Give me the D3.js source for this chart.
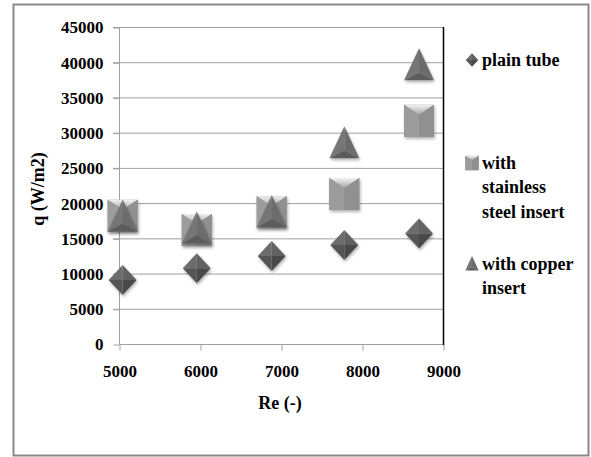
<!DOCTYPE html>
<html><head><meta charset="utf-8">
<script src="https://cdn.jsdelivr.net/npm/d3@7"></script>
<style>body{margin:0;background:#fff}svg{display:block}svg text{font-family:"Liberation Serif","Times New Roman",Times,"Noto Serif","DejaVu Serif","FreeSerif",serif;font-weight:bold;fill:#000}</style>
</head><body><svg id="c" width="591" height="457"></svg>
<script>
const reValues = [5045, 5960, 6885, 7782, 8704];
const plainTube = [9100, 10750, 12500, 14050, 15700];
const stainless = [18200, 16200, 18700, 21300, 31700];
const copper = [18000, 16300, 18600, 28400, 39500];
const xTicks = [5000, 6000, 7000, 8000, 9000];
const yTicks = [0, 5000, 10000, 15000, 20000, 25000, 30000, 35000, 40000, 45000];
const seriesNames = ["plain tube", "with stainless steel insert", "with copper insert"];
const legendLines = [["plain tube"], ["with", "stainless", "steel insert"], ["with copper", "insert"]];

const FONT = "Liberation Serif, Times New Roman, Times, Noto Serif, DejaVu Serif, FreeSerif, serif";
const svg = d3.select("#c");
const x = d3.scaleLinear().domain([5000, 9000]).range([119, 443]);
const y = d3.scaleLinear().domain([0, 45000]).range([344, 27]);

svg.append("rect").attr("x", 13.5).attr("y", 4.5).attr("width", 575).attr("height", 451)
  .attr("fill", "#fff").attr("stroke", "#888").attr("stroke-width", 2);

const defs = svg.append("defs");
const f = defs.append("filter").attr("id", "sh").attr("x", "-30%").attr("y", "-30%").attr("width", "160%").attr("height", "160%");
f.append("feDropShadow").attr("dx", 1).attr("dy", 2).attr("stdDeviation", 1.5).attr("flood-color", "#000").attr("flood-opacity", 0.3);
const gs = defs.append("linearGradient").attr("id", "sqTop").attr("x1", 0).attr("y1", 0).attr("x2", 0).attr("y2", 1);
gs.append("stop").attr("offset", 0).attr("stop-color", "#f2f2f2");
gs.append("stop").attr("offset", 1).attr("stop-color", "#a8a8a8");

svg.append("g").selectAll("line").data(yTicks.filter(d => d > 0)).join("line")
  .attr("x1", 113).attr("x2", 443).attr("y1", d => y(d) + 0.5).attr("y2", d => y(d) + 0.5)
  .attr("stroke", "#a0a0a0").attr("stroke-width", 1);

const ya = svg.append("g").attr("transform", "translate(119.5,0.5)")
  .call(d3.axisLeft(y).tickValues(yTicks).tickSize(6).tickPadding(10).tickFormat(d3.format("d")));
ya.attr("font-family", null);
ya.select(".domain").attr("stroke", "#a0a0a0").attr("d", `M-6,${y(45000)}H0V${y(0)}`);
ya.selectAll(".tick line").attr("stroke", "#a0a0a0");
ya.selectAll(".tick text").attr("font-size", 17).attr("fill", "#000");

const xa = svg.append("g").attr("transform", "translate(0.5,344.5)")
  .call(d3.axisBottom(x).tickValues(xTicks).tickSize(6).tickPadding(14).tickFormat(d3.format("d")));
xa.attr("font-family", null);
xa.select(".domain").attr("stroke", "#a0a0a0").attr("d", `M${x(5000)},0H${x(9000)}`);
xa.selectAll(".tick line").attr("stroke", "#a0a0a0");
xa.selectAll(".tick text").attr("font-size", 17).attr("fill", "#000");

svg.append("line").attr("x1", x(9000) + 0.5).attr("x2", x(9000) + 0.5).attr("y1", y(45000)).attr("y2", y(0) + 1)
  .attr("stroke", "#000").attr("stroke-width", 1.5);

svg.append("text").attr("x", 280).attr("y", 409).attr("text-anchor", "middle").attr("font-size", 18).text("Re (-)");
svg.append("text").attr("transform", "translate(44,189) rotate(-90)").attr("text-anchor", "middle").attr("font-size", 18).text("q (W/m2)");

function poly(pts) { return "M" + pts.map(p => p.join(",")).join("L") + "Z"; }

function drawDiamond(g, s) {
  const w = 14 * s, h = 15 * s;
  const T = [0, -h], R = [w, 0], B = [0, h], L = [-w, 0], C = [0, 0];
  g.append("path").attr("d", poly([C, L, T])).attr("fill", "#6c6c6c");
  g.append("path").attr("d", poly([C, T, R])).attr("fill", "#626262");
  g.append("path").attr("d", poly([C, R, B])).attr("fill", "#4a4a4a");
  g.append("path").attr("d", poly([C, B, L])).attr("fill", "#555");
}
function drawSquare(g, s) {
  const w = 15 * s, h = 16 * s, c = 6 * s;
  const TL = [-w, -h], TR = [w, -h], BR = [w, h], BL = [-w, h], C = [0, -h + c + 4 * s];
  g.append("path").attr("d", poly([TL, TR, BR, BL])).attr("fill", "#8e8e8e");
  g.append("path").attr("d", poly([TL, TR, C])).attr("fill", "url(#sqTop)");
  g.append("path").attr("d", poly([TL, C, [0, h], BL])).attr("fill", "#9c9c9c");
  g.append("path").attr("d", poly([TR, C, [0, h], BR])).attr("fill", "#909090");
}
function drawTriangle(g, s) {
  const w = 15 * s, h = 32 * s;
  const T = [0, -h * 0.55], R = [w, h * 0.45], L = [-w, h * 0.45], C = [0, h * 0.2];
  g.append("path").attr("d", poly([T, C, L])).attr("fill", "#767676");
  g.append("path").attr("d", poly([T, R, C])).attr("fill", "#6c6c6c");
  g.append("path").attr("d", poly([C, R, L])).attr("fill", "#5c5c5c");
}
const drawers = [drawDiamond, drawSquare, drawTriangle];
const seriesData = [plainTube, stainless, copper];

seriesData.forEach((vals, si) => {
  const grp = svg.append("g").attr("class", "series").attr("filter", "url(#sh)");
  vals.forEach((v, i) => {
    const g = grp.append("g").attr("transform", `translate(${x(reValues[i])},${y(v)})`);
    drawers[si](g, 1);
  });
});

const legendY = [60, 163, 264];
legendLines.forEach((lines, si) => {
  const g = svg.append("g").attr("transform", `translate(472,${legendY[si]})`);
  drawers[si](g, 0.45);
  lines.forEach((t, li) => {
    svg.append("text").attr("x", 482).attr("y", legendY[si] + 5.5 + li * 24.5)
      .attr("font-size", 18).text(t);
  });
});
</script></body></html>
